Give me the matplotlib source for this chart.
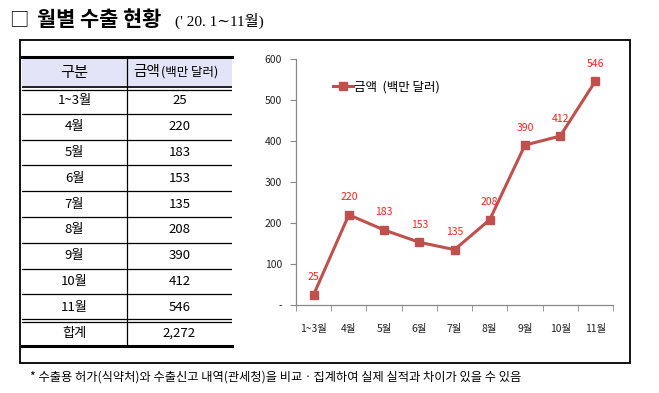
import matplotlib.pyplot as plt
from matplotlib.patches import Rectangle

plt.rcParams['font.family'] = ['Noto Sans CJK KR', 'DejaVu Sans']

# data
months = ['1~3월', '4월', '5월', '6월', '7월', '8월', '9월', '10월', '11월']
amounts = [25, 220, 183, 153, 135, 208, 390, 412, 546]
total_label = '합계'
total_value = '2,272'
yticks = [0, 100, 200, 300, 400, 500, 600]
ytick_labels = ['-', '100', '200', '300', '400', '500', '600']

W, H = 659, 393
fig = plt.figure(figsize=(W / 100, H / 100), dpi=100)


def fx(px):
    return px / W


def fy(py):
    return 1 - py / H


# title
fig.text(fx(9), fy(20), '□', fontsize=14, va='center', ha='left')
fig.text(fx(37), fy(20), '월별 수출 현황', fontsize=15, fontweight='bold',
         va='center', ha='left')
fig.text(fx(175), fy(21), "(' 20. 1∼11월)", fontsize=11, va='center', ha='left',
         family=['Liberation Serif', 'DejaVu Serif', 'Noto Sans CJK KR'])

# outer box
fig.patches.append(Rectangle((fx(20), fy(363)), fx(610), (363 - 40) / H,
                             transform=fig.transFigure, fill=False,
                             edgecolor='black', lw=1.3))

# footnote
fig.text(fx(30), fy(377),
         '* 수출용 허가(식약처)와 수출신고 내역(관세청)을 비교ㆍ집계하여 실제 실적과 차이가 있을 수 있음',
         fontsize=8.8, va='center', ha='left')

# ---- table ----
tax = fig.add_axes([fx(22), fy(346), fx(210), (346 - 57) / H])
tax.set_axis_off()
hh = 1.2
n = len(months) + 1
tax.set_xlim(0, 2)
tax.set_ylim(hh + n, 0)
tax.add_patch(Rectangle((0, 0), 2, hh, facecolor='#E4E4F8', edgecolor='none'))
tax.text(0.5, hh / 2, '구분', ha='center', va='center', fontsize=11)
t_amt = tax.text(1.06, hh / 2, '금액', ha='left', va='center', fontsize=10.5)
tax.annotate('(백만 달러)', xy=(1, 0.5), xycoords=t_amt, xytext=(0.5, 0),
             textcoords='offset points', ha='left', va='center', fontsize=9)

rows = list(zip(months, [str(a) for a in amounts])) + [(total_label, total_value)]
for i, (lab, val) in enumerate(rows):
    yc = hh + i + 0.5
    tax.text(0.5, yc, lab, ha='center', va='center', fontsize=9.5)
    tax.text(1.5, yc, val, ha='center', va='center', fontsize=9.5)

# lines
tax.plot([0, 2], [0, 0], color='black', lw=2.2, clip_on=False)
tax.plot([0, 2], [hh - 0.04, hh - 0.04], color='black', lw=1.2)
tax.plot([0, 2], [hh + 0.07, hh + 0.07], color='black', lw=0.9)
for i in range(1, n):
    y = hh + i
    if i == n - 1:
        tax.plot([0, 2], [y - 0.06, y - 0.06], color='black', lw=0.9)
        tax.plot([0, 2], [y + 0.06, y + 0.06], color='black', lw=0.9)
    else:
        tax.plot([0, 2], [y, y], color='black', lw=0.9)
tax.plot([0, 2], [hh + n, hh + n], color='black', lw=2.2, clip_on=False)
tax.plot([1, 1], [0, hh + n], color='black', lw=0.9)

# ---- chart ----
ax = fig.add_axes([fx(296), fy(305), fx(613 - 296), (305 - 59) / H])
x = list(range(len(months)))
line_color = '#C0504D'
ax.plot(x, amounts, color=line_color, lw=2.2, marker='s', ms=5.5,
        markerfacecolor=line_color, markeredgecolor=line_color,
        label='금액  (백만 달러)')
for xi, v in zip(x, amounts):
    ax.annotate(str(v), (xi, v), xytext=(0, 9), textcoords='offset points',
                ha='center', va='bottom', color='#FF2020', fontsize=7.5)

ax.set_xlim(-0.5, len(months) - 0.5)
ax.set_ylim(0, 600)
ax.set_yticks(yticks)
ax.set_yticklabels(ytick_labels)
ax.set_xticks(x)
ax.set_xticklabels(months)
ax.set_xticks([i - 0.5 for i in range(len(months) + 1)], minor=True)
ax.tick_params(axis='x', which='major', length=0, pad=14, labelsize=7.5,
               labelcolor='#222222')
ax.tick_params(axis='x', which='minor', length=4, color='#888888', direction='out')
ax.tick_params(axis='y', length=4, color='#888888', labelsize=7.5,
               labelcolor='#222222', pad=6)
for s in ['top', 'right']:
    ax.spines[s].set_visible(False)
for s in ['left', 'bottom']:
    ax.spines[s].set_color('#888888')
    ax.spines[s].set_linewidth(0.9)
ax.set_facecolor('none')

ax.legend(loc='upper left', bbox_to_anchor=(0.08, 0.96), frameon=False,
          fontsize=9, handlelength=1.6, handletextpad=0.1)

fig.savefig('out.png', dpi=100)
